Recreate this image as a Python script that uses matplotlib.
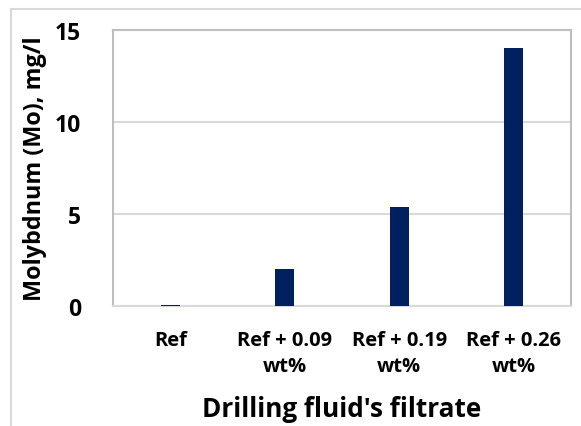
import matplotlib
matplotlib.use("Agg")
import matplotlib.pyplot as plt
from matplotlib.patches import Rectangle

# data
categories = ["Ref", "Ref + 0.09\nwt%", "Ref + 0.19\nwt%", "Ref + 0.26\nwt%"]
mo_values = [0.05, 2.0, 5.4, 14.0]
y_ticks = [0, 5, 10, 15]

plt.rcParams['font.family'] = ['Open Sans', 'DejaVu Sans']
plt.rcParams['font.weight'] = 'bold'

fig = plt.figure(figsize=(5.81, 4.27), dpi=100)

# outer chart border (Excel chart area)
fig.patches.append(Rectangle((11 / 581, -0.1), 1.2, (427 - 10) / 427 + 0.1,
                             transform=fig.transFigure, fill=False,
                             edgecolor='#d9d9d9', linewidth=1.5))

ax = fig.add_axes([113 / 581, (427 - 307) / 427, (571 - 113) / 581, (307 - 31) / 427])
x = range(len(categories))
ax.bar(x, mo_values, width=0.165, color='#002060', zorder=3)

ax.set_xlim(-0.5, len(categories) - 0.5)
ax.set_ylim(0, 15)
ax.set_yticks(y_ticks)
ax.set_xticks(list(x))
ax.set_xticklabels(categories, fontsize=14.5, fontweight='bold', linespacing=1.35)
ax.tick_params(axis='x', length=0, pad=17.5)
ax.tick_params(axis='y', length=0, pad=23, labelsize=16.5)
for lbl in ax.get_yticklabels():
    lbl.set_fontweight('bold')

ax.grid(axis='y', color='#d9d9d9', linewidth=1.5, zorder=0)
for side in ['left', 'top', 'right']:
    ax.spines[side].set_color('#bfbfbf')
    ax.spines[side].set_linewidth(1.5)
ax.spines['bottom'].set_color('#d9d9d9')
ax.spines['bottom'].set_linewidth(1.5)

ax.set_ylabel("Molybdnum (Mo), mg/l", fontsize=16.8, fontweight='bold', labelpad=0)
ax.yaxis.set_label_coords(-0.144, 0.5)
ax.set_xlabel("Drilling fluid's filtrate", fontsize=18.8, fontweight='bold', labelpad=14)

fig.savefig("out.png", dpi=100)
